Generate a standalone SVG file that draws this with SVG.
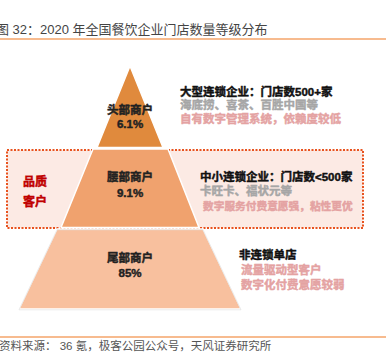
<svg xmlns="http://www.w3.org/2000/svg" width="386" height="364" viewBox="0 0 386 364">
<style>
text{font-family:"Liberation Sans","Noto Sans CJK SC",sans-serif;}
.title{font-size:13px;fill:#444;}
.foot{font-size:11.5px;fill:#555;}
.b{font-weight:bold;stroke-width:0.45;stroke-linejoin:round;}
.lbl{font-size:11.5px;fill:#222;stroke:#222;text-anchor:middle;}
.head{font-size:11.5px;fill:#111;stroke:#111;}
.gray{font-size:11.5px;fill:#A6A6A6;stroke:#A6A6A6;}
.pink{font-size:11.5px;fill:#E4A2A2;stroke:#E4A2A2;}
.red{font-size:12px;fill:#C00000;stroke:#C00000;text-anchor:middle;}
.tier{stroke:#fff;stroke-width:1.5;stroke-linejoin:round;}
</style>
<rect width="386" height="364" fill="#fff"/>
<text class="title" x="-4" y="34">图 32：2020 年全国餐饮企业门店数量等级分布</text>
<line x1="0" y1="39" x2="386" y2="39" stroke="#F4A46A" stroke-width="1.5"/>

<g id="quality-box">
<rect x="7" y="150" width="356" height="78" fill="#FCEAE4" stroke="#E8531F" stroke-width="2" stroke-dasharray="2 1.5"/>
<text class="red b" x="35" y="186">品质</text>
<text class="red b" x="35" y="206">客户</text>
</g>

<g id="top-tier">
<polygon class="tier" points="130,66 163,147.5 97,147.5" fill="#E08A3D"/>
<text class="lbl b" x="130" y="114">头部商户</text>
<text class="lbl b" x="130" y="128">6.1%</text>
</g>
<g id="middle-tier">
<polygon class="tier" points="93,149 168,149 199,227.5 61,227.5" fill="#F0A26E"/>
<text class="lbl b" x="130" y="181">腰部商户</text>
<text class="lbl b" x="130" y="197">9.1%</text>
</g>
<g id="bottom-tier">
<polygon class="tier" points="57,229 203,229 241,309 19,309" fill="#F8C09E"/>
<polygon points="57,229 203,229 241,309 19,309" fill="none" stroke="#DDDDDD" stroke-width="0.6" transform="translate(0,0.8)"/>
<text class="lbl b" x="130" y="262">尾部商户</text>
<text class="lbl b" x="130" y="277">85%</text>
</g>

<g id="top-desc">
<text class="head b" x="180" y="96">大型连锁企业：门店数500+家</text>
<text class="gray b" x="180" y="109">海底捞、喜茶、百胜中国等</text>
<text class="pink b" x="180" y="123">自有数字管理系统，依赖度较低</text>
</g>
<g id="middle-desc">
<text class="head b" x="200" y="181">中小连锁企业：门店数&lt;500家</text>
<text class="gray b" x="200" y="195">卡旺卡、福状元等</text>
<text class="pink b" x="203" y="210" style="font-size:10.7px">数字服务付费意愿强，粘性更优</text>
</g>
<g id="bottom-desc">
<text class="head b" x="239" y="259">非连锁单店</text>
<text class="pink b" x="241" y="274">流量驱动型客户</text>
<text class="pink b" x="241" y="289">数字化付费意愿较弱</text>
</g>

<g id="connectors"></g>

<line x1="0" y1="337" x2="386" y2="337" stroke="#F4A46A" stroke-width="1.5"/>
<text class="foot" x="-1" y="350">资料来源： 36 氪，极客公园公众号，天风证券研究所</text>
</svg>
